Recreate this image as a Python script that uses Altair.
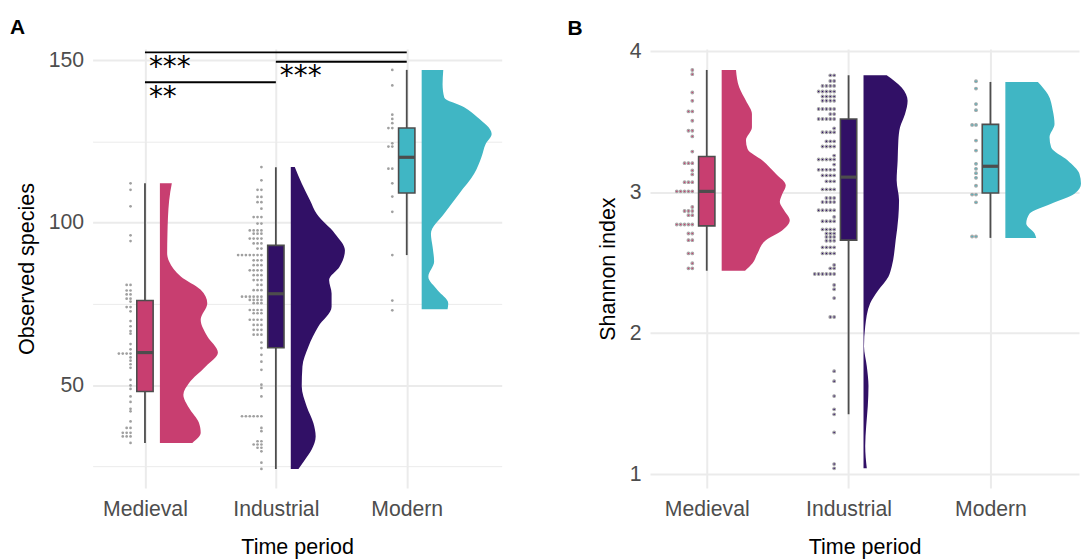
import altair as alt
import pandas as pd

FONT = "Liberation Sans"
periods = ["Medieval", "Industrial", "Modern"]
period_pos = [1, 2, 3]
palette = ["#C83E70", "#311066", "#40B6C4"]

# ---------------- Panel A : Observed species ----------------
# dot values (stacked dots: value and number of dots in the stack)
obs_med_vals = [112.1, 110.1, 105.0, 96.1, 94.3, 80.8, 79.1, 77.9, 76.6, 75.7, 74.0, 72.7,
                69.7, 68.1, 66.6, 65.8, 62.6, 61.0, 59.7, 58.5, 57.5, 56.4, 55.3, 51.6,
                49.9, 48.8, 46.5, 44.8, 42.7, 41.9, 38.8, 36.8, 35.3, 34.2, 32.2]
obs_med_cnts = [1, 1, 1, 1, 1, 2, 2, 2, 2, 1, 2, 1,
                1, 1, 1, 1, 1, 1, 4, 1, 1, 1, 1, 1,
                1, 1, 1, 1, 1, 1, 1, 2, 3, 3, 1]
obs_ind_vals = [117.1, 113.0, 110.1, 107.9, 106.3, 104.3, 101.7, 99.7, 97.6, 96.6, 95.1, 93.6,
                92.0, 90.0, 88.4, 86.9, 85.3, 83.8, 82.3, 80.8, 79.2, 77.2, 76.2, 75.2,
                73.1, 72.1, 70.1, 68.5, 67.0, 65.5, 63.1, 61.4, 59.3, 57.2, 54.7, 50.1,
                49.1, 46.5, 40.4, 36.8, 35.8, 32.7, 31.7, 30.7, 29.6, 26.1, 24.2]
obs_ind_cnts = [1, 1, 2, 2, 2, 1, 3, 2, 4, 3, 4, 3,
                2, 7, 3, 3, 4, 3, 3, 2, 3, 6, 4, 3,
                4, 3, 4, 3, 3, 3, 1, 1, 1, 1, 1, 1,
                1, 1, 6, 1, 1, 2, 3, 2, 1, 1, 1]
obs_mod_vals = [147.0, 142.2, 133.2, 131.9, 130.6, 129.1, 124.4, 123.4, 116.6, 112.1,
                108.0, 103.3, 90.0, 76.0, 73.0]
obs_mod_cnts = [1, 1, 1, 1, 1, 2, 1, 2, 2, 1, 1, 1, 1, 1, 1]

# box statistics (Medieval, Industrial, Modern)
obs_lower = [32.2, 24.2, 90.0]
obs_q1 = [48.0, 61.5, 109.1]
obs_median = [60.0, 78.1, 120.1]
obs_q3 = [76.0, 93.0, 129.1]
obs_upper = [112.1, 117.0, 147.0]

# half-violin density profiles (value, density in arbitrary width units)
obs_med_vy = [112.1, 106.8, 96.7, 90.6, 88.0, 83.4, 79.3, 75.2, 70.1, 65.0, 60.0, 55.7,
              50.6, 47.0, 42.9, 38.3, 35.3, 32.2]
obs_med_vd = [12.0, 9.3, 7.6, 7.3, 9.3, 21.0, 41.0, 47.6, 41.0, 47.6, 58.3, 46.0,
              29.3, 23.6, 29.3, 39.3, 41.0, 32.6]
obs_ind_vy = [117.1, 112.0, 106.8, 102.7, 96.6, 91.5, 86.4, 82.3, 78.2, 74.1, 68.0, 61.8,
              55.7, 49.6, 43.4, 38.3, 34.2, 30.2, 27.1, 24.2]
obs_ind_vd = [4.0, 11.0, 19.4, 26.0, 44.4, 54.4, 49.0, 38.5, 41.0, 41.0, 27.7, 17.7,
              11.7, 11.0, 16.0, 22.7, 25.0, 21.0, 14.4, 7.7]
obs_mod_vy = [147.0, 142.6, 138.5, 135.5, 132.4, 127.3, 124.2, 120.1, 115.0, 108.9, 102.8,
              96.6, 92.5, 88.0, 83.3, 79.2, 75.2, 73.3]
obs_mod_vd = [21.7, 21.0, 22.7, 42.7, 56.0, 70.3, 64.3, 60.0, 52.7, 37.7, 22.7,
              9.3, 11.0, 12.5, 6.7, 16.0, 26.7, 26.0]

# significance brackets
sig_start = [1, 2, 1]
sig_end = [3, 3, 2]
sig_y = [152.4, 149.5, 143.2]
sig_label = ["***", "***", "**"]

# ---------------- Panel B : Shannon index ----------------
sh_med_vals = [3.866, 3.836, 3.706, 3.647, 3.572, 3.506, 3.435, 3.395, 3.287, 3.205, 3.153,
               3.125, 3.070, 3.005, 2.894, 2.866, 2.836, 2.770, 2.706, 2.659, 2.565, 2.495, 2.459]
sh_med_cnts = [1, 1, 1, 1, 2, 1, 2, 1, 1, 3, 1,
               1, 3, 5, 1, 3, 2, 5, 2, 2, 2, 1, 2]
sh_ind_vals = [3.828, 3.788, 3.753, 3.713, 3.678, 3.647, 3.589, 3.553, 3.518, 3.452, 3.424,
               3.360, 3.323, 3.259, 3.231, 3.195, 3.158, 3.118, 3.076, 3.019, 2.958, 2.929,
               2.871, 2.824, 2.793, 2.735, 2.706, 2.682, 2.654, 2.608, 2.565, 2.483, 2.459,
               2.419, 2.341, 2.311, 2.248, 2.114, 1.730, 1.659, 1.553, 1.459, 1.424, 1.295,
               1.071, 1.041]
sh_ind_cnts = [2, 2, 4, 5, 4, 4, 5, 2, 5, 1, 4,
               3, 4, 1, 5, 1, 5, 4, 3, 4, 3, 4,
               5, 1, 4, 4, 3, 3, 3, 4, 4, 1, 2,
               6, 1, 1, 1, 2, 1, 1, 1, 1, 1, 1,
               1, 1]
sh_mod_vals = [3.786, 3.734, 3.624, 3.581, 3.476, 3.365, 3.294, 3.200, 3.165, 3.134, 3.101,
               3.045, 2.982, 2.927, 2.685]
sh_mod_cnts = [1, 1, 1, 1, 2, 1, 1, 1, 1, 1, 1, 1, 2, 1, 2]

sh_lower = [2.442, 1.424, 2.675]
sh_q1 = [2.760, 2.659, 2.993]
sh_median = [3.005, 3.106, 3.183]
sh_q3 = [3.252, 3.518, 3.480]
sh_upper = [3.866, 3.828, 3.781]

sh_med_vy = [3.866, 3.741, 3.647, 3.553, 3.459, 3.365, 3.306, 3.224, 3.130, 3.047, 2.988,
             2.929, 2.871, 2.800, 2.729, 2.659, 2.565, 2.495, 2.442]
sh_med_vd = [14.4, 17.7, 24.4, 30.4, 30.4, 24.4, 26.0, 41.0, 54.4, 64.4, 61.0,
             58.4, 62.7, 68.4, 61.0, 44.4, 36.0, 31.0, 23.5]
sh_ind_vy = [3.828, 3.741, 3.647, 3.553, 3.459, 3.365, 3.224, 3.083, 2.941, 2.824, 2.659,
             2.471, 2.400, 2.306, 2.212, 2.047, 1.906, 1.765, 1.624, 1.483, 1.341, 1.200, 1.041]
sh_ind_vd = [23.3, 38.3, 44.3, 41.7, 36.7, 35.0, 34.3, 33.3, 35.7, 35.0, 32.3,
             28.3, 25.0, 15.0, 6.7, 1.7, 0.5, 3.3, 5.0, 4.3, 2.7, 1.7, 3.3]
sh_mod_vy = [3.781, 3.694, 3.577, 3.483, 3.388, 3.318, 3.224, 3.130, 3.059, 2.988, 2.918,
             2.848, 2.777, 2.706, 2.675]
sh_mod_vd = [32.7, 42.7, 47.7, 49.4, 44.4, 46.0, 62.7, 74.4, 76.0, 69.4, 46.0,
             24.4, 21.0, 29.4, 31.0]


# ---------------- helpers ----------------
def dots_table(vals_list, cnts_list):
    rows = []
    for p, pos, vals, cnts in zip(periods, period_pos, vals_list, cnts_list):
        for v, c in zip(vals, cnts):
            rows += [{"period": p, "pos": pos, "value": v}] * c
    return pd.DataFrame(rows)


def violin_table(ys_list, ds_list):
    rows = []
    for p, pos, ys, ds in zip(periods, period_pos, ys_list, ds_list):
        for y, d in zip(ys, ds):
            rows.append({"period": p, "pos": pos, "value": y, "dens": d})
    return pd.DataFrame(rows)


def box_table(lo, q1, med, q3, hi):
    return pd.DataFrame({"period": periods, "pos": period_pos, "lower": lo, "q1": q1,
                         "median": med, "q3": q3, "upper": hi})


color_scale = alt.Scale(domain=periods, range=palette)
x_label_expr = " : ".join(f"datum.value == {p} ? '{n}'" for p, n in zip(period_pos, periods)) + " : ''"


def make_panel(dots, box, violin, px_unit, xdom, ydom, yvals, major_test, ytitle, ptitle,
               width, height, dots_colored, title_offset, extra=None):
    xaxis = alt.Axis(values=period_pos, labelExpr=x_label_expr, grid=True, gridWidth=2,
                     gridColor="#EBEBEB", title="Time period")
    yaxis = alt.Axis(values=yvals, grid=True, gridColor="#EBEBEB", format="d",
                     gridWidth={"condition": {"test": major_test, "value": 2}, "value": 1},
                     labelExpr=f"({major_test}) ? datum.label : ''", title=ytitle)
    xsc = alt.Scale(domain=xdom, nice=False, zero=False)
    ysc = alt.Scale(domain=ydom, nice=False, zero=False)

    def X(f):
        return alt.X(f, type="quantitative", scale=xsc, axis=xaxis, title="Time period")

    def Y(f):
        return alt.Y(f, type="quantitative", scale=ysc, axis=yaxis, title=ytitle)

    dot_off = 14.5 / px_unit
    dot_step = 3.9 / px_unit
    box_half = 8.2 / px_unit
    vio_off = 15.0 / px_unit

    dot_base = alt.Chart(dots).transform_window(
        rank="row_number()", groupby=["period", "value"]
    ).transform_calculate(
        xd=f"datum.pos - {dot_off} - (datum.rank - 1) * {dot_step}"
    )
    if dots_colored:
        dot_layer = dot_base.mark_point(filled=True, size=7, stroke="#A8A8A8", strokeWidth=1.2,
                                        opacity=1).encode(
            x=X("xd"), y=Y("value"),
            fill=alt.Color("period:N", scale=color_scale, legend=None))
    else:
        dot_layer = dot_base.mark_circle(size=7.5, color="#A0A0A0", opacity=1).encode(
            x=X("xd"), y=Y("value"))

    vio_layer = alt.Chart(violin).transform_calculate(
        x0=f"datum.pos + {vio_off}",
        x1=f"datum.pos + {vio_off} + datum.dens / {px_unit}"
    ).mark_area(orient="horizontal", interpolate="monotone", opacity=1).encode(
        y=Y("value"), x=X("x0"), x2="x1",
        color=alt.Color("period:N", scale=color_scale, legend=None),
        detail="period:N"
    )

    bbase = alt.Chart(box).transform_calculate(
        bl=f"datum.pos - {box_half}", br=f"datum.pos + {box_half}")
    whisk = bbase.mark_rule(color="#4D4D4D", strokeWidth=1.8).encode(
        x=X("pos"), y=Y("lower"), y2="upper")
    rect = bbase.mark_rect(stroke="#4D4D4D", strokeWidth=1.6, opacity=1).encode(
        x=X("bl"), x2="br", y=Y("q1"), y2="q3",
        color=alt.Color("period:N", scale=color_scale, legend=None))
    med = bbase.mark_rule(color="#4D4D4D", strokeWidth=3.2).encode(
        x=X("bl"), x2="br", y=Y("median"))

    layers = [vio_layer, dot_layer, whisk, rect, med]
    if extra is not None:
        layers += extra(X, Y)
    return alt.layer(*layers).properties(
        width=width, height=height,
        title=alt.TitleParams(ptitle, anchor="start", frame="group", dx=-83, fontSize=21,
                              fontWeight="bold", font=FONT, color="black", offset=title_offset)
    )


def sig_layers(X, Y):
    sig = pd.DataFrame({"x1": sig_start, "x2": sig_end, "y": sig_y, "label": sig_label})
    rules = alt.Chart(sig).mark_rule(color="black", strokeWidth=1.8).encode(
        x=X("x1"), x2="x2", y=Y("y"))
    texts = alt.Chart(sig).mark_text(align="left", baseline="top", dx=4, dy=1.5, fontSize=28,
                                     font="DejaVu Sans", color="black").encode(
        x=X("x1"), y=Y("y"), text="label:N")
    return [rules, texts]


PX_A = 131.5
PX_B = 142.5
W_A, W_B, H = 411, 431, 441

panel_a = make_panel(
    dots_table([obs_med_vals, obs_ind_vals, obs_mod_vals], [obs_med_cnts, obs_ind_cnts, obs_mod_cnts]),
    box_table(obs_lower, obs_q1, obs_median, obs_q3, obs_upper),
    violin_table([obs_med_vy, obs_ind_vy, obs_mod_vy], [obs_med_vd, obs_ind_vd, obs_mod_vd]),
    PX_A, [0.6, 0.6 + W_A / PX_A], [18.3, 153.4], [25, 50, 75, 100, 125, 150],
    "datum.value % 50 === 0", "Observed species", "A", W_A, H, False, 11.5, extra=sig_layers)

panel_b = make_panel(
    dots_table([sh_med_vals, sh_ind_vals, sh_mod_vals], [sh_med_cnts, sh_ind_cnts, sh_mod_cnts]),
    box_table(sh_lower, sh_q1, sh_median, sh_q3, sh_upper),
    violin_table([sh_med_vy, sh_ind_vy, sh_mod_vy], [sh_med_vd, sh_ind_vd, sh_mod_vd]),
    PX_B, [0.6, 0.6 + W_B / PX_B], [0.901, 4.014], [1, 1.5, 2, 2.5, 3, 3.5, 4],
    "datum.value % 1 === 0", "Shannon index", "B", W_B, H, True, 1)

chart = alt.hconcat(panel_a, panel_b, spacing=66).properties(
    padding={"left": 2, "top": 7, "right": 0, "bottom": 0}
).configure_view(stroke=None).configure_axis(
    domain=False, ticks=False, labelFont=FONT, labelFontSize=21.3, labelColor="#4D4D4D",
    titleFont=FONT, titleFontSize=21.6, titleColor="black", titleFontWeight="normal",
    labelPadding=9, titlePadding=10
).configure_axisX(labelPadding=10.5, titlePadding=17)

chart.save("out.html", embed_options={"renderer": "svg", "actions": False})
